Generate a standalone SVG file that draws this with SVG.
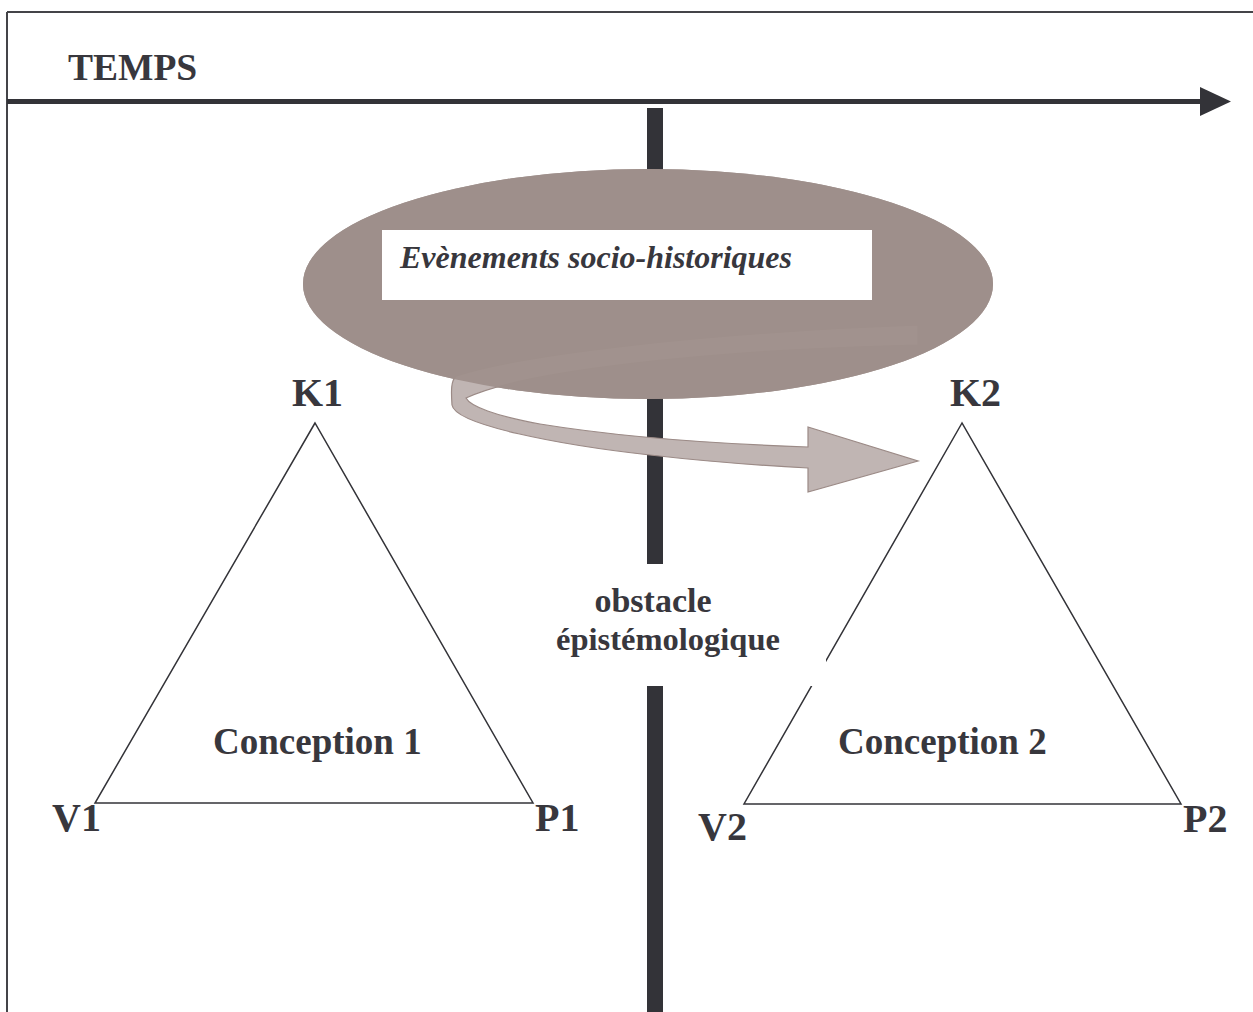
<svg xmlns="http://www.w3.org/2000/svg" xmlns:xlink="http://www.w3.org/1999/xlink" width="1253" height="1012" viewBox="0 0 1253 1012">
<style>
.t{font-family:"Liberation Serif","Times New Roman",serif;font-weight:bold;fill:#38373d}
.lbl{font-size:40px}
.con{font-size:37px}
.tri{fill:none;stroke:#333338;stroke-width:1.5}
</style>
<defs>
<ellipse id="ell" cx="648" cy="284" rx="345" ry="115"/>
</defs>
<rect x="0" y="0" width="1253" height="1012" fill="#ffffff"/>
<g id="frame" fill="none" stroke="#444448" stroke-width="2">
<line x1="7" y1="12" x2="1253" y2="12"/>
<line x1="7" y1="12" x2="7" y2="1012"/>
</g>
<g id="timeline">
<line x1="7" y1="101.5" x2="1202" y2="101.5" stroke="#333338" stroke-width="5"/>
<polygon points="1200,87 1231,101.5 1200,116" fill="#333338"/>
<text class="t" x="68" y="80" font-size="37.5">TEMPS</text>
</g>
<g id="triangle1">
<polygon class="tri" points="315,423 95,803 533,803"/>
</g>
<g id="triangle2">
<polygon class="tri" points="962,423 744,804 1181,804"/>
</g>
<g id="obstacle">
<rect x="647" y="108" width="16" height="904" fill="#333338"/>
<rect x="540" y="564" width="286" height="122" fill="#ffffff"/>
<text class="t" x="653" y="612" font-size="34" text-anchor="middle">obstacle</text>
<text class="t" x="668" y="650" font-size="32.5" text-anchor="middle">épistémologique</text>
</g>
<g id="events">
<use xlink:href="#ell" fill="#9e8f8b"/>
</g>
<g id="connectors">
<path d="M 918 325 C 700 333 520 355 456 376 C 451 381 451 390 452 405 C 455 425 560 445 650 455 C 720 463 770 466 808 468 L 808 492 L 918 461 L 808 427 L 808 447 C 720 444 620 437 540 424 C 495 416 470 406 466 398 C 520 372 700 350 918 345 Z" fill="#c0b5b3" stroke="#9b8a86" stroke-width="1.2"/>
</g>
<g id="events-top">
<use xlink:href="#ell" fill="#9e8f8b" fill-opacity="0.93"/>
<rect x="382" y="230" width="490" height="70" fill="#ffffff"/>
<text class="t" x="400" y="268" font-size="32" font-style="italic">Evènements socio-historiques</text>
</g>
<g id="labels">
<text class="t lbl" x="292" y="406">K1</text>
<text class="t lbl" x="950" y="406">K2</text>
<text class="t lbl" x="52" y="831">V1</text>
<text class="t lbl" x="535" y="831">P1</text>
<text class="t lbl" x="698" y="840">V2</text>
<text class="t lbl" x="1183" y="832">P2</text>
<text class="t con" x="213" y="754">Conception 1</text>
<text class="t con" x="838" y="754">Conception 2</text>
</g>
</svg>
